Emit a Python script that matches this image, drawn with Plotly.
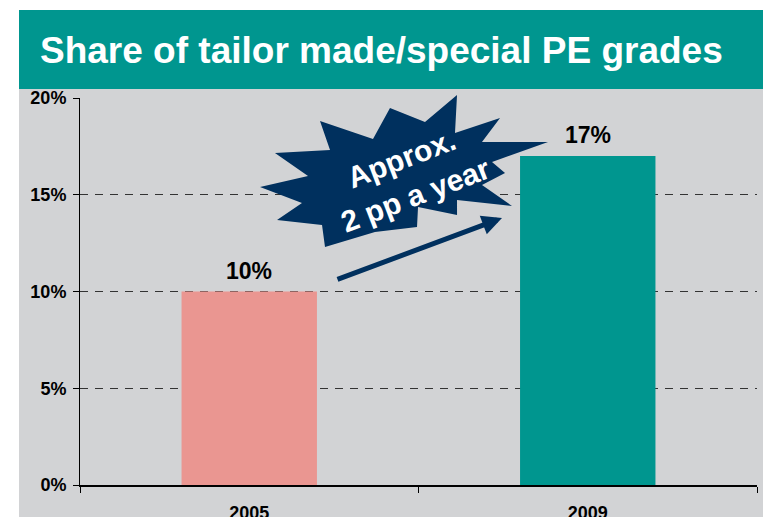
import plotly.graph_objects as go

# ---- data ----
categories = ["2005", "2009"]
shares = [10, 17]
value_labels = ["10%", "17%"]
bar_colors = ["#EA9691", "#00968F"]
y_ticks = [0, 5, 10, 15, 20]
y_tick_labels = ["0%", "5%", "10%", "15%", "20%"]
title_text = "Share of tailor made/special PE grades"
burst_text = "Approx.<br>2 pp a year"

W, H = 763, 517
L, R, T, B = 80, 757, 98, 485
FONT = "Liberation Sans, Arial, sans-serif"
TEAL = "#00968F"
GREY = "#D2D3D5"
NAVY = "#00305E"


def px(x, y):
    """pixel -> paper coordinates"""
    return (x - L) / (R - L), (B - y) / (B - T)


fig = go.Figure()
fig.add_trace(go.Bar(
    x=categories, y=shares, marker=dict(color=bar_colors, line=dict(width=0)),
    width=0.4, hoverinfo="skip",
))

# value labels above bars
for i, (v, t) in enumerate(zip(shares, value_labels)):
    fig.add_annotation(x=i, y=v, xref="x", yref="y", text=t, showarrow=False,
                       xanchor="center", yanchor="middle", yshift=21,
                       font=dict(family=FONT, size=23, color="black", weight="bold"))

shapes = []
# grey panel & teal title bar
x0, y0 = px(19, 517)
x1, y1 = px(763, 89)
shapes.append(dict(type="rect", xref="paper", yref="paper", x0=x0, y0=y0, x1=x1, y1=y1,
                   fillcolor=GREY, line=dict(width=0), layer="below"))
x0, y0 = px(19, 89)
x1, y1 = px(763, 10)
shapes.append(dict(type="rect", xref="paper", yref="paper", x0=x0, y0=y0, x1=x1, y1=y1,
                   fillcolor=TEAL, line=dict(width=0), layer="below"))

# starburst decoration (pixel outline)
star_px = [
    (457, 95), (455, 133), (500, 118), (482, 142), (548, 142), (492, 162),
    (505, 173), (482, 185), (512, 206), (457, 200), (457, 215), (418, 207),
    (417, 227), (375, 232), (325, 247), (322, 225), (277, 220), (302, 203),
    (260, 187), (308, 176), (275, 153), (330, 150), (320, 121), (373, 139),
    (390, 108), (425, 122),
]
pts = [px(x, y) for x, y in star_px]
path = "M " + " L ".join(f"{a:.4f},{b:.4f}" for a, b in pts) + " Z"
shapes.append(dict(type="path", xref="paper", yref="paper", path=path,
                   fillcolor=NAVY, line=dict(width=0), layer="above"))
fig.update_layout(shapes=shapes)

# title
tx, ty = px(38, 50)
fig.add_annotation(x=tx, y=ty, xref="paper", yref="paper", text=title_text,
                   showarrow=False, xanchor="left", yanchor="middle",
                   font=dict(family=FONT, size=37, color="white", weight="bold"))

# burst text
bx, by = px(408, 177)
fig.add_annotation(x=bx, y=by, xref="paper", yref="paper", text=burst_text,
                   showarrow=False, textangle=-21, xanchor="center", yanchor="middle",
                   font=dict(family=FONT, size=30, color="white", weight="bold"))

# arrow
ax_, ay_ = px(502, 218)
fig.add_annotation(x=ax_, y=ay_, xref="paper", yref="paper", text="",
                   showarrow=True, arrowhead=2, arrowsize=0.8, arrowwidth=5,
                   arrowcolor=NAVY, ax=336 - 502, ay=280 - 218, standoff=0)

fig.update_layout(
    width=W, height=H,
    margin=dict(l=L, r=W - R, t=T, b=H - B, pad=0, autoexpand=False),
    paper_bgcolor="white", plot_bgcolor=GREY,
    showlegend=False, bargap=0.6,
    xaxis=dict(type="category", range=[-0.5, 1.5], showline=True, linecolor="black",
               linewidth=2, ticks="outside", ticklen=6, tickcolor="black",
               tickson="boundaries", showgrid=False, zeroline=False,
               ticklabelstandoff=10, automargin=False,
               tickfont=dict(family=FONT, size=18, color="black", weight="bold")),
    yaxis=dict(range=[0, 20], tickvals=y_ticks, ticktext=y_tick_labels,
               showline=True, linecolor="black", linewidth=1, ticks="outside",
               ticklen=6, tickcolor="black", showgrid=True, gridcolor="#333333",
               gridwidth=1, griddash="8px,7px", zeroline=False,
               ticklabelstandoff=3, automargin=False,
               tickfont=dict(family=FONT, size=18, color="black", weight="bold")),
)

fig.write_html("out.html", config={"displayModeBar": False},
               post_script="document.body.style.margin='0';document.body.style.padding='0';")
